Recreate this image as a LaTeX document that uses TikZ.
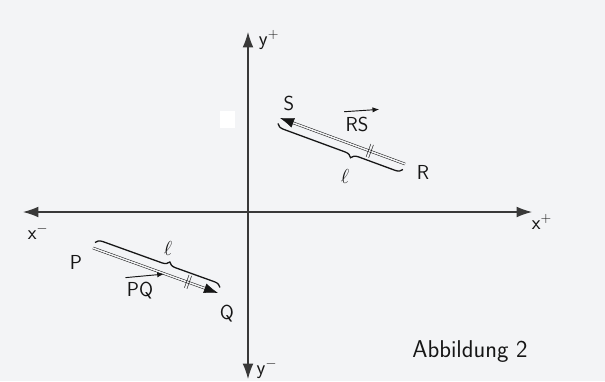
\documentclass[tikz,border=0pt]{standalone}
\usepackage{amsmath,amssymb}
\usepackage{xcolor}
\usetikzlibrary{arrows.meta, decorations.pathreplacing, positioning}

\definecolor{paper}{RGB}{243,244,246}
\definecolor{ink}{RGB}{22,22,22}

\tikzset{
  axis/.style={line width=0.9pt, draw=ink!85, >={Latex[length=4.6mm,width=3.2mm]}, <->},
  vec/.style={double=paper, double distance=1.3pt, line width=0.45pt, draw=ink,
              -{Latex[length=4.2mm,width=3mm]}},
  lbrace/.style={decorate, decoration={brace, amplitude=6pt, raise=5pt}, line width=1.1pt, draw=ink},
  lbl/.style={font=\sffamily\LARGE, text=ink, inner sep=1pt},
  small arrow/.style={line width=0.8pt, draw=ink, -{Latex[length=2mm,width=1.6mm]}},
}

\begin{document}
\begin{tikzpicture}[x=0.03cm, y=-0.03cm]

        % Paper
        \fill[paper] (0,0) rectangle (605,381);
        \useasboundingbox (0,0) rectangle (605,381);
        \fill[white] (220,111) rectangle (235,128);

        % Axes
        \coordinate (xl) at (23,212);
        \coordinate (xr) at (532,212);
        \coordinate (yt) at (248,32);
        \coordinate (yb) at (248,379);
        \draw[axis] (xl) -- (xr);
        \draw[axis] (yb) -- (yt);
        \node[lbl] (xm) at (38,232) {$\mathsf{x}^{-}$};
        \node[lbl] (xp) at (542,222) {$\mathsf{x}^{+}$};
        \node[lbl] (yp) at (269,40) {$\mathsf{y}^{+}$};
        \node[lbl] (ym) at (267,369) {$\mathsf{y}^{-}$};

        % Vector PQ
        \coordinate (P) at (93,248);
        \coordinate (Q) at (218,293);
        \draw[vec] (P) -- (Q) node[sloped, pos=0.76, font=\large\bfseries] (pqmark) {$\|$};
        \draw[lbrace, decoration={aspect=0.58}] (P) -- (Q);
        \node[lbl] (lP) at (76,262) {P};
        \node[lbl] (lQ) at (227,314) {Q};
        \node[lbl] (lenPQ) at (168,248) {$\ell$};
        \node[lbl] (nPQ) at (140,291) {PQ};
        \draw[small arrow] ([yshift=3pt]nPQ.north west) -- ([xshift=8pt,yshift=6pt]nPQ.north east);

        % Vector RS
        \coordinate (R) at (405,164);
        \coordinate (S) at (280,118);
        \draw[vec] (R) -- (S) node[sloped, pos=0.28, font=\large\bfseries] (rsmark) {$\|$};
        \draw[lbrace, decoration={aspect=0.4}] (R) -- (S);
        \node[lbl] (lR) at (423,172) {R};
        \node[lbl] (lS) at (289,103) {S};
        \node[lbl] (lenRS) at (345,176) {$\ell$};
        \node[lbl] (nRS) at (357,124) {RS};
        \draw[small arrow] ([yshift=3pt]nRS.north west) -- ([xshift=8pt,yshift=5pt]nRS.north east);

        % Caption
        \node[lbl, font=\sffamily\huge] (cap) at (470,352) {Abbildung 2};

\end{tikzpicture}
\end{document}
